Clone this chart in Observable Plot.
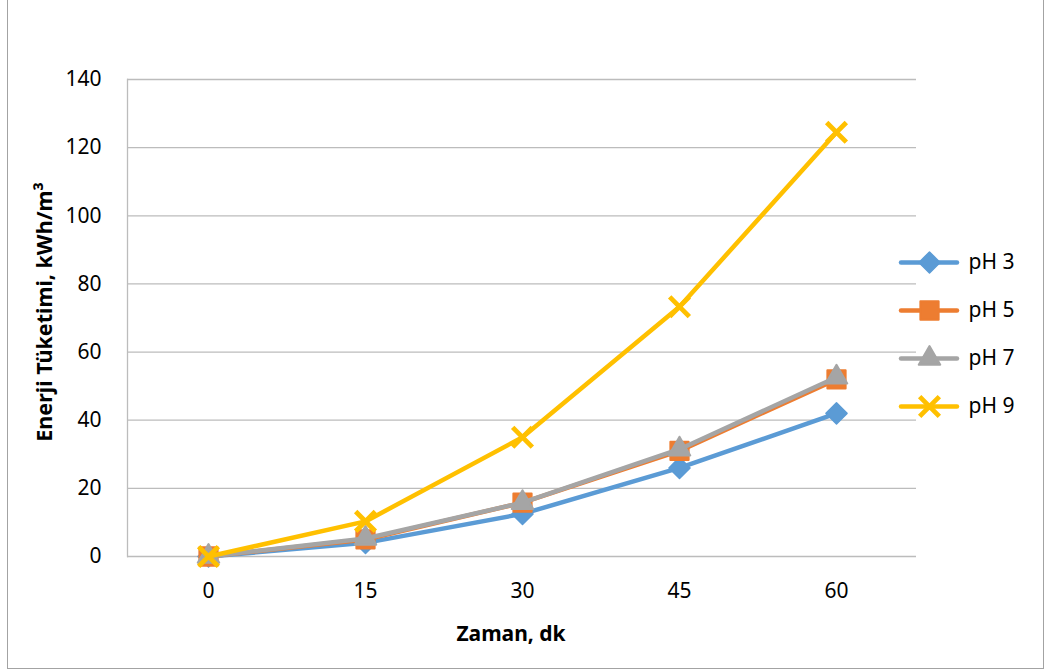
<!DOCTYPE html>
<html>
<head>
<meta charset="utf-8">
<script src="https://cdn.jsdelivr.net/npm/d3@7"></script>
<script src="https://cdn.jsdelivr.net/npm/@observablehq/plot@0.6"></script>
<style>
  html, body { margin: 0; padding: 0; background: #fff; }
  #wrap { position: relative; width: 1046px; height: 671px; overflow: hidden; font-family: "Noto Sans", sans-serif; }
  #border { position: absolute; left: 7px; top: -3px; width: 1037px; height: 672px; box-sizing: border-box; border: 1.5px solid #a3a3a3; pointer-events: none; }
  #chart { position: absolute; left: 0; top: 0; }
  #legend { position: absolute; left: 901px; top: 238px; }
</style>
</head>
<body>
<div id="wrap">
  <div id="chart"></div>
  <div id="legend"></div>
  <div id="border"></div>
</div>
<script>
// ---- data ----
const categories = ["0", "15", "30", "45", "60"];
const seriesNames = ["pH 3", "pH 5", "pH 7", "pH 9"];
const pH3 = [0, 4.0, 12.5, 26.0, 42.0];
const pH5 = [0, 5.0, 15.8, 31.0, 52.0];
const pH7 = [0, 5.3, 15.8, 31.5, 52.6];
const pH9 = [0, 10.3, 35.0, 73.3, 124.5];
const yTicks = [0, 20, 40, 60, 80, 100, 120, 140];
const xTitle = "Zaman, dk";
const yTitle = "Enerji Tüketimi, kWh/m³";

// ---- styling (kept separate from data) ----
const colors = ["#5B9BD5", "#ED7D31", "#A5A5A5", "#FFC000"];
const symbols = ["diamond2", "square", "triangle", "times"];
const dotStyle = [
  {r: 9.5, strokeWidth: 1.5},
  {r: 10.3, strokeWidth: 2},
  {r: 8, strokeWidth: 2},
  {r: 9, strokeWidth: 4.8}
];

const valuesBySeries = [pH3, pH5, pH7, pH9];
const rows = [];
seriesNames.forEach((s, i) => {
  categories.forEach((c, j) => rows.push({series: s, t: c, v: valuesBySeries[i][j]}));
});

const font = "'Noto Sans', 'Open Sans', sans-serif";

const seriesMarks = [];
seriesNames.forEach((s, i) => {
  const d = rows.filter(r => r.series === s);
  seriesMarks.push(Plot.line(d, {x: "t", y: "v", stroke: colors[i], strokeWidth: 4.5, strokeLinejoin: "round", strokeLinecap: "round"}));
  const isStroke = symbols[i] === "times";
  seriesMarks.push(Plot.dot(d, {
    x: "t", y: "v", symbol: () => symbols[i], r: dotStyle[i].r,
    fill: isStroke ? "none" : colors[i], stroke: colors[i],
    strokeWidth: dotStyle[i].strokeWidth, strokeLinejoin: "round", strokeLinecap: "butt"
  }));
});

const chart = Plot.plot({
  width: 1046,
  height: 671,
  marginLeft: 127,
  marginRight: 130,
  marginTop: 79,
  marginBottom: 115,
  style: {fontFamily: font, fontSize: "21px", color: "#000", background: "transparent", overflow: "visible"},
  x: {type: "point", domain: categories, padding: 0.5, label: null},
  y: {domain: [0, 140], label: null},
  symbol: {domain: symbols, range: symbols},
  marks: [
    Plot.gridY(yTicks, {stroke: "#bcbcbc", strokeOpacity: 1, strokeWidth: 1.3}),
    Plot.frame({anchor: "left", stroke: "#bcbcbc", strokeWidth: 1.3}),
    Plot.axisY(yTicks, {tickSize: 0, tickPadding: 26, fontSize: 21, label: null}),
    Plot.axisX({tickSize: 0, tickPadding: 27, fontSize: 21, label: null}),
    ...seriesMarks,
    Plot.text([xTitle], {frameAnchor: "bottom", dx: -11, dy: 77.5, textAnchor: "middle", lineAnchor: "middle", fontWeight: "bold", fontSize: 21}),
    Plot.text([yTitle], {frameAnchor: "left", dx: -82, dy: -6, rotate: -90, textAnchor: "middle", lineAnchor: "middle", fontWeight: "bold", fontSize: 21.5})
  ]
});
document.getElementById("chart").appendChild(chart);

// ---- legend ----
const legendMarks = [];
seriesNames.forEach((s, i) => {
  legendMarks.push(Plot.ruleY([s], {y: d => d, x1: 0, x2: 1, stroke: colors[i], strokeWidth: 4.5, strokeLinecap: "round"}));
  const isStroke = symbols[i] === "times";
  legendMarks.push(Plot.dot([s], {
    x: () => 0.5, y: d => d, symbol: () => symbols[i], r: dotStyle[i].r,
    fill: isStroke ? "none" : colors[i], stroke: colors[i], strokeWidth: dotStyle[i].strokeWidth, strokeLinejoin: "round"
  }));
});
legendMarks.push(Plot.text(seriesNames, {x: () => 1, y: d => d, text: d => d, dx: 11, textAnchor: "start", lineAnchor: "middle", fontSize: 21}));

const legend = Plot.plot({
  width: 145,
  height: 192,
  marginLeft: 0,
  marginRight: 89,
  marginTop: 0,
  marginBottom: 0,
  style: {fontFamily: font, fontSize: "21px", color: "#000", background: "transparent", overflow: "visible"},
  x: {domain: [0, 1], axis: null},
  y: {type: "point", domain: seriesNames, padding: 0.5, axis: null},
  symbol: {domain: symbols, range: symbols},
  marks: legendMarks
});
document.getElementById("legend").appendChild(legend);
</script>
</body>
</html>
